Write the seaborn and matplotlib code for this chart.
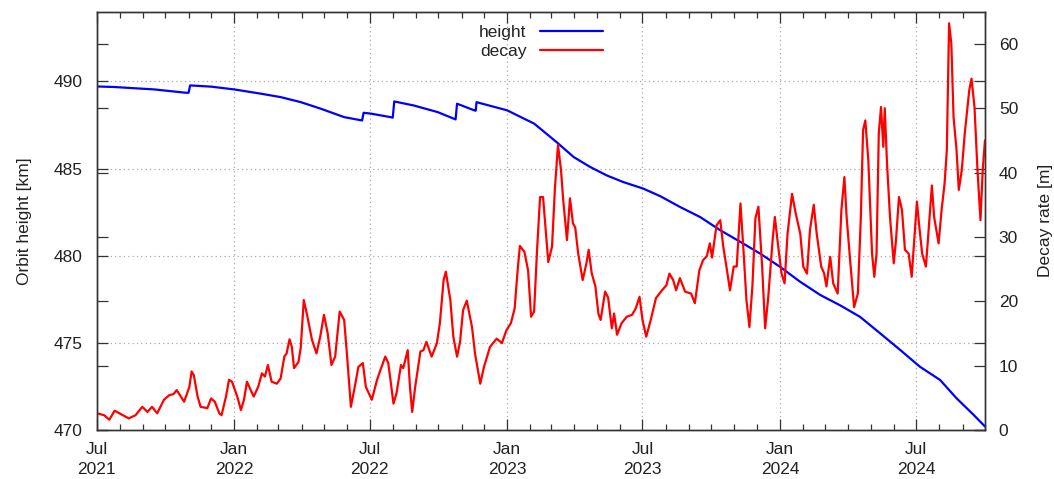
import matplotlib
matplotlib.use("Agg")
import matplotlib.dates as mdates
import matplotlib.pyplot as plt
import pandas as pd
import seaborn as sns

# ── Data (days since 2021-07-01) ─────────────────────────────────
START = pd.Timestamp("2021-07-01")
END = pd.Timestamp("2024-10-01")

height_days = [0, 23, 77, 119, 123, 125, 153, 184, 219, 246, 273, 300, 331, 355,
               357, 367, 393, 396, 398, 424, 456, 480, 482, 505, 507, 508, 549,
               585, 593, 615, 638, 660, 682, 704, 731, 754, 780, 807, 834, 861,
               887, 914, 941, 968, 994, 1021, 1048, 1075, 1101, 1128, 1150, 1173,
               1186, 1188]
height_km = [489.71, 489.68, 489.54, 489.35, 489.35, 489.77, 489.70, 489.54, 489.30,
             489.10, 488.81, 488.43, 487.95, 487.76, 488.20, 488.15, 487.95, 487.92,
             488.85, 488.62, 488.24, 487.82, 488.72, 488.34, 488.32, 488.81, 488.34,
             487.58, 487.30, 486.52, 485.66, 485.09, 484.61, 484.23, 483.85, 483.41,
             482.80, 482.22, 481.46, 480.79, 480.13, 479.36, 478.50, 477.74, 477.16,
             476.49, 475.54, 474.58, 473.63, 472.87, 471.82, 470.86, 470.29, 470.20]

decay_days = [0, 10, 17, 24, 32, 43, 52, 61, 68, 74, 81, 90, 97, 103, 107, 117, 124,
              127, 130, 135, 139, 148, 153, 158, 164, 167, 173, 177, 181, 188, 193,
              197, 201, 210, 216, 221, 225, 229, 234, 241, 246, 251, 254, 258, 261,
              264, 270, 273, 277, 281, 288, 294, 299, 304, 309, 314, 319, 325, 331,
              335, 340, 346, 350, 356, 360, 368, 375, 381, 386, 390, 397, 401, 407,
              410, 416, 419, 422, 426, 433, 437, 441, 448, 455, 459, 464, 467, 473,
              477, 482, 486, 490, 495, 502, 506, 513, 518, 526, 535, 542, 548, 554,
              559, 563, 566, 572, 577, 581, 585, 589, 593, 597, 601, 604, 609, 613,
              617, 621, 624, 629, 633, 637, 640, 644, 650, 655, 658, 662, 667, 671,
              674, 680, 684, 689, 692, 696, 702, 709, 716, 721, 726, 730, 735, 741,
              748, 756, 762, 766, 771, 775, 780, 787, 795, 800, 806, 811, 816, 820,
              823, 829, 834, 838, 843, 847, 852, 856, 861, 865, 869, 873, 877, 881,
              885, 890, 894, 898, 904, 907, 912, 916, 920, 924, 930, 935, 941, 945,
              950, 954, 959, 963, 969, 973, 976, 981, 985, 991, 996, 1000, 1003,
              1008, 1013, 1018, 1022, 1025, 1028, 1032, 1037, 1040, 1043, 1046, 1049,
              1052, 1054, 1057, 1061, 1066, 1069, 1073, 1077, 1081, 1086, 1090, 1095,
              1097, 1100, 1104, 1109, 1112, 1117, 1120, 1126, 1130, 1134, 1137, 1140,
              1143, 1146, 1150, 1153, 1157, 1161, 1167, 1170, 1174, 1178, 1182, 1185,
              1188]
decay_m = [2.6, 2.3, 1.6, 3.0, 2.5, 1.8, 2.3, 3.6, 2.8, 3.6, 2.6, 4.7, 5.4, 5.6, 6.2,
           4.4, 6.7, 9.1, 8.5, 5.2, 3.6, 3.4, 4.9, 4.4, 2.6, 2.3, 5.2, 7.8, 7.5, 5.2,
           3.1, 4.7, 7.5, 5.2, 6.7, 8.8, 8.3, 10.1, 7.5, 7.2, 8.0, 11.4, 11.9, 14.1,
           12.9, 9.6, 10.6, 12.9, 20.2, 18.1, 14.0, 11.9, 14.5, 17.9, 15.0, 10.1,
           11.4, 18.4, 17.1, 11.4, 3.6, 7.2, 9.8, 10.4, 6.7, 4.7, 7.8, 9.8, 11.4,
           10.4, 4.1, 5.7, 10.1, 9.6, 12.4, 6.7, 2.8, 6.7, 12.2, 12.4, 13.7, 11.4,
           13.5, 16.6, 23.3, 24.6, 20.2, 14.5, 11.4, 13.7, 18.6, 20.1, 16.0, 11.9,
           7.2, 9.8, 12.9, 14.2, 13.5, 15.5, 16.6, 18.9, 24.8, 28.6, 27.7, 24.8,
           17.6, 18.4, 28.0, 36.2, 36.2, 30.5, 26.1, 28.5, 37.8, 44.3, 40.4, 35.7,
           29.5, 36.0, 32.1, 31.5, 27.4, 23.3, 25.9, 28.0, 24.4, 22.3, 18.1, 17.1,
           21.5, 20.6, 15.8, 18.1, 14.8, 16.6, 17.6, 17.9, 18.9, 20.7, 17.1, 14.5,
           17.1, 20.5, 21.7, 22.5, 24.3, 23.3, 21.7, 23.6, 21.5, 21.2, 19.7, 24.8,
           26.4, 27.0, 29.0, 26.8, 31.8, 32.6, 28.5, 24.8, 21.7, 25.4, 25.4, 35.2,
           28.0, 20.2, 16.0, 22.4, 32.9, 34.7, 25.4, 15.8, 20.4, 29.5, 33.1, 28.0,
           24.3, 22.8, 30.5, 36.7, 33.6, 30.5, 25.4, 24.3, 31.1, 35.0, 30.5, 25.4,
           24.3, 22.3, 26.9, 22.8, 21.2, 34.2, 39.3, 33.1, 25.9, 19.1, 21.2, 33.1,
           46.6, 48.1, 41.9, 27.4, 23.8, 27.4, 46.1, 50.2, 44.0, 50.0, 41.4, 33.1,
           25.9, 29.5, 36.2, 34.2, 28.0, 27.4, 23.8, 32.1, 35.5, 31.8, 27.4, 25.4,
           30.0, 38.0, 33.1, 29.0, 34.2, 38.3, 43.5, 63.2, 60.1, 48.6, 43.5, 37.3,
           40.4, 46.1, 52.8, 54.6, 50.2, 40.4, 32.6, 40.4, 45.0]

height_ticks = [470, 475, 480, 485, 490]
decay_ticks = [0, 10, 20, 30, 40, 50, 60]

# ── Style ─────────────────────────────────────────────────────────
sns.set_style("ticks")
plt.rcParams["font.family"] = ["Liberation Sans", "DejaVu Sans"]
plt.rcParams.update({"font.size": 12.5, "text.color": "#222222",
                     "axes.labelcolor": "#222222",
                     "xtick.color": "#333333", "ytick.color": "#333333",
                     "xtick.labelcolor": "#222222", "ytick.labelcolor": "#222222",
                     "xtick.labelsize": 12.5, "ytick.labelsize": 12.5,
                     "axes.labelsize": 12.5, "text.parse_math": False})

height_df = pd.DataFrame({
    "date": START + pd.to_timedelta(height_days, unit="D"),
    "km": height_km,
})
decay_df = pd.DataFrame({
    "date": START + pd.to_timedelta(decay_days, unit="D"),
    "m": decay_m,
})

fig = plt.figure(figsize=(10.54, 4.79), dpi=100)
ax = fig.add_axes([0.0917, 0.1023, 0.8428, 0.8733])
ax2 = ax.twinx()

sns.lineplot(data=height_df, x="date", y="km", ax=ax, color="#0000ff",
             linewidth=1.6, estimator=None, sort=False, label="height", legend=False)
sns.lineplot(data=decay_df, x="date", y="m", ax=ax2, color="#ff0000",
             linewidth=1.6, estimator=None, sort=False, label="decay", legend=False)

ax.set_xlim(START, END)
ax.set_ylim(470, 494)
ax2.set_ylim(0, 65)
ax.set_yticks(height_ticks)
ax2.set_yticks(decay_ticks)

ax.xaxis.set_major_locator(mdates.MonthLocator(bymonth=[1, 7]))
ax.xaxis.set_major_formatter(mdates.DateFormatter("%b\n%Y"))
ax.xaxis.set_minor_locator(mdates.MonthLocator())
fig.canvas.draw()
for lbl in ax.get_xticklabels():
    lbl.set_linespacing(1.35)

ax.grid(True, which="major", color="#aaaaaa", linestyle=(0, (1, 2.5)), linewidth=0.9)
ax2.grid(False)

ax.tick_params(which="major", direction="in", length=8, width=0.9,
               top=True, right=True, pad=10)
ax.tick_params(axis="x", which="major", pad=9)
ax.tick_params(which="minor", direction="in", length=4.5, width=0.9, top=True)
ax2.tick_params(which="major", direction="in", length=8, width=0.9,
                left=True, right=True, labelleft=False, pad=10)

for eixo in (ax, ax2):
    for spine in eixo.spines.values():
        spine.set_color("#333333")
        spine.set_linewidth(1.0)

ax.set_xlabel("")
ax.set_ylabel("Orbit height [km]", labelpad=16)
ax2.set_ylabel("Decay rate [m]", labelpad=14)

handles = ax.get_lines()[:1] + ax2.get_lines()[:1]
ax2.legend(handles, ["height", "decay"], loc="center", bbox_to_anchor=(0.5, 0.928),
           frameon=False, markerfirst=False, handlelength=3.6, handletextpad=0.8,
           labelspacing=0.2, fontsize=12.5)

fig.savefig("out.png", dpi=100)
